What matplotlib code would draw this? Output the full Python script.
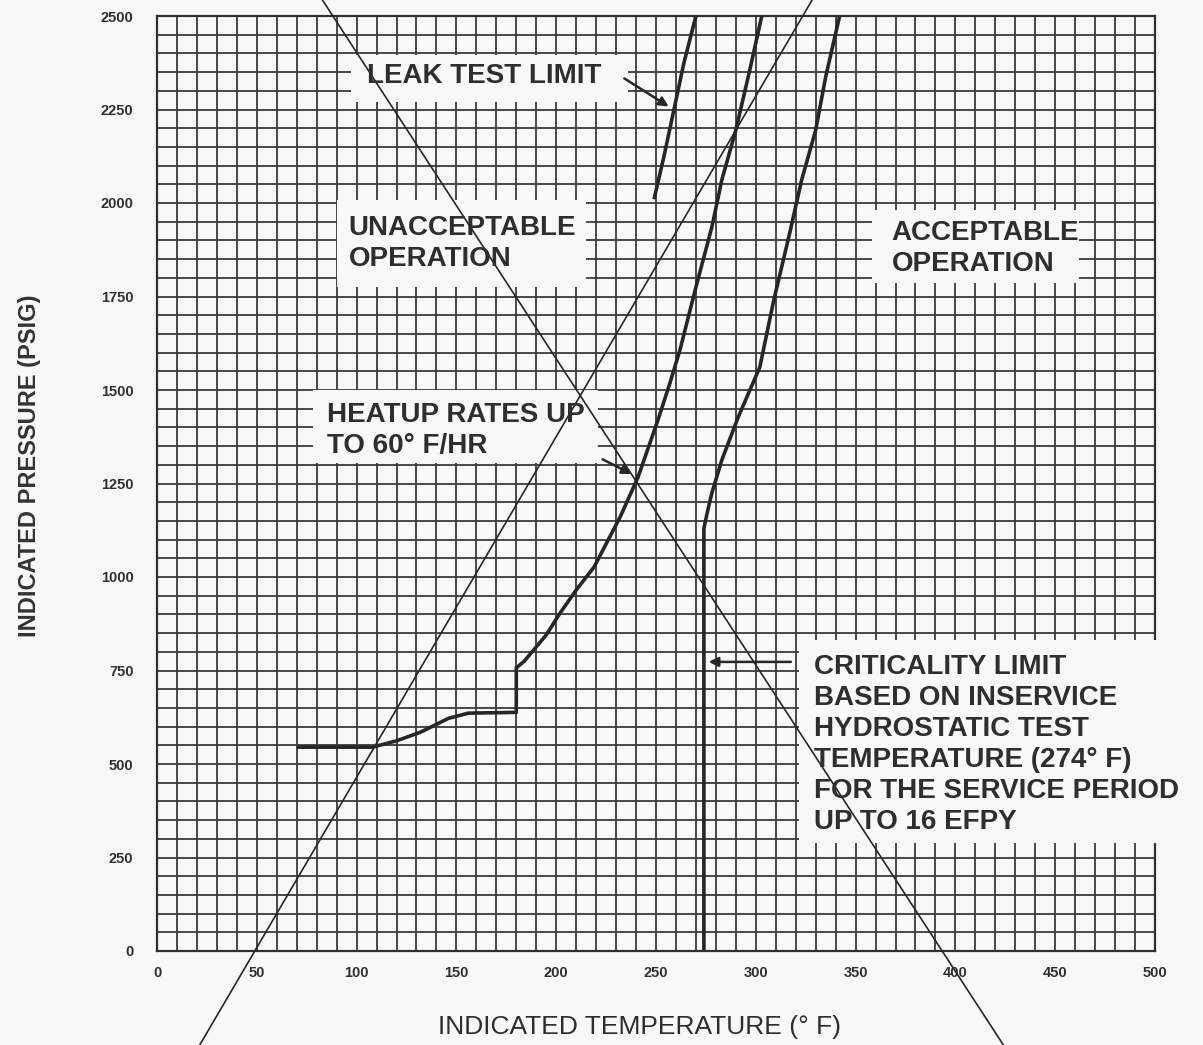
import numpy as np
import matplotlib
matplotlib.use('Agg')
import matplotlib.pyplot as plt
from matplotlib.patches import Rectangle

# P-T limit sheet
# temperature in deg F, pressure in psig
heatup_temp = [70, 108, 120, 132, 146, 156, 180, 180, 184, 195, 202, 210, 219, 232,
               241, 251, 257, 262, 270, 278, 283, 290, 297, 303]
heatup_press = [545, 545, 562, 585, 622, 636, 638, 757, 775, 845, 904, 965, 1027, 1160,
                1267, 1420, 1519, 1607, 1775, 1936, 2062, 2195, 2356, 2500]

crit_temp = [274, 274, 276, 278, 283, 291, 302, 309, 317, 323, 330, 335, 342]
crit_press = [0, 1130, 1180, 1225, 1313, 1425, 1561, 1740, 1920, 2062, 2195, 2337, 2500]

leak_temp = [249, 254, 259, 264, 270]
leak_press = [2010, 2125, 2250, 2375, 2500]

# two long straight strokes crossing the whole sheet (they run past the frame)
rise_temp = [21, 329]
rise_press = [-255, 2550]
fall_temp = [82, 424.5]
fall_press = [2550, -255]

temp_ticks = [0, 50, 100, 150, 200, 250, 300, 350, 400, 450, 500]
press_ticks = [0, 250, 500, 750, 1000, 1250, 1500, 1750, 2000, 2250, 2500]

ink = '#262626'
paper = '#f8f8f8'
lab_font = 'Liberation Sans'

fig = plt.figure(figsize=(12.03, 10.45), dpi=100, facecolor=paper)
ax = fig.add_axes([157 / 1203, 94 / 1045, 998 / 1203, 935 / 1045])
ax.set_facecolor(paper)
ax.set_xlim(0, 500)
ax.set_ylim(0, 2500)

# graph paper: 10 F by 50 psig cells
ax.set_xticks(temp_ticks)
ax.set_xticks(np.arange(0, 501, 10), minor=True)
ax.set_yticks(press_ticks)
ax.set_yticks(np.arange(0, 2501, 50), minor=True)
ax.set_xticklabels([str(t) for t in temp_ticks])
ax.set_yticklabels([str(p) for p in press_ticks])
ax.grid(which='both', color='#3a3a3a', lw=1.3)
ax.set_axisbelow(True)
ax.tick_params(which='both', length=0)
ax.tick_params(axis='x', pad=11)
ax.tick_params(axis='y', pad=17)
for lab in ax.get_xticklabels() + ax.get_yticklabels():
    lab.set_fontfamily(lab_font)
    lab.set_fontweight('bold')
    lab.set_fontsize(10.5)
    lab.set_color('#303030')
for sp in ax.spines.values():
    sp.set_color('#303030')
    sp.set_linewidth(1.6)

# white patches where the labels were pasted over the grid
boxes = [(97, 236, 2270, 2395, 1),     # leak test limit
         (90, 215, 1775, 2008, 1),     # unacceptable operation
         (358, 462, 1786, 1981, 1),    # acceptable operation
         (78, 221, 1305, 1500, 1),     # heatup rates
         (321.5, 525, 289, 832, 3)]    # criticality limit
for t0, t1, p0, p1, z in boxes:
    ax.add_patch(Rectangle((t0, p0), t1 - t0, p1 - p0, facecolor=paper,
                           edgecolor='none', zorder=z, clip_on=False))

ax.plot(heatup_temp, heatup_press, color=ink, lw=2.6, zorder=4, solid_capstyle='butt')
ax.plot(crit_temp, crit_press, color=ink, lw=2.6, zorder=4, solid_capstyle='butt')
ax.plot(leak_temp, leak_press, color=ink, lw=2.6, zorder=4, solid_capstyle='butt')
ax.plot(rise_temp, rise_press, color=ink, lw=1.2, zorder=4, clip_on=False)
ax.plot(fall_temp, fall_press, color=ink, lw=1.2, zorder=4, clip_on=False)

txt = dict(fontfamily=lab_font, fontweight='bold', fontsize=20, color='#2e2e2e',
           ha='left', va='center', zorder=5, linespacing=1.25)
ax.text(105, 2340, 'LEAK TEST LIMIT', **txt)
ax.text(96, 1892, 'UNACCEPTABLE\nOPERATION', **txt)
ax.text(368, 1878, 'ACCEPTABLE\nOPERATION', **txt)
ax.text(85, 1393, 'HEATUP RATES UP\nTO 60\u00b0 F/HR', **txt)
ax.text(329, 551, 'CRITICALITY LIMIT\nBASED ON INSERVICE\nHYDROSTATIC TEST\n'
        'TEMPERATURE (274\u00b0 F)\nFOR THE SERVICE PERIOD\nUP TO 16 EFPY',
        clip_on=False, **txt)

arrow = dict(arrowstyle='-|>', color=ink, lw=1.8, mutation_scale=14)
ax.annotate('', xy=(257.5, 2254), xytext=(233, 2337), arrowprops=arrow, zorder=5)
ax.annotate('', xy=(239, 1272), xytext=(222, 1318), arrowprops=arrow, zorder=5)
ax.annotate('', xy=(275, 773), xytext=(319, 773), arrowprops=arrow, zorder=5)

fig.text(640 / 1203, 18 / 1045, 'INDICATED TEMPERATURE (\u00b0 F)', fontfamily=lab_font,
         fontsize=19, color='#2e2e2e', ha='center', va='center')
fig.text(30 / 1203, 579 / 1045, 'INDICATED PRESSURE (PSIG)', fontfamily=lab_font,
         fontsize=17, fontweight='bold', color='#333333', ha='center', va='center',
         rotation=90)

fig.savefig('out.png', dpi=100, facecolor=paper)
